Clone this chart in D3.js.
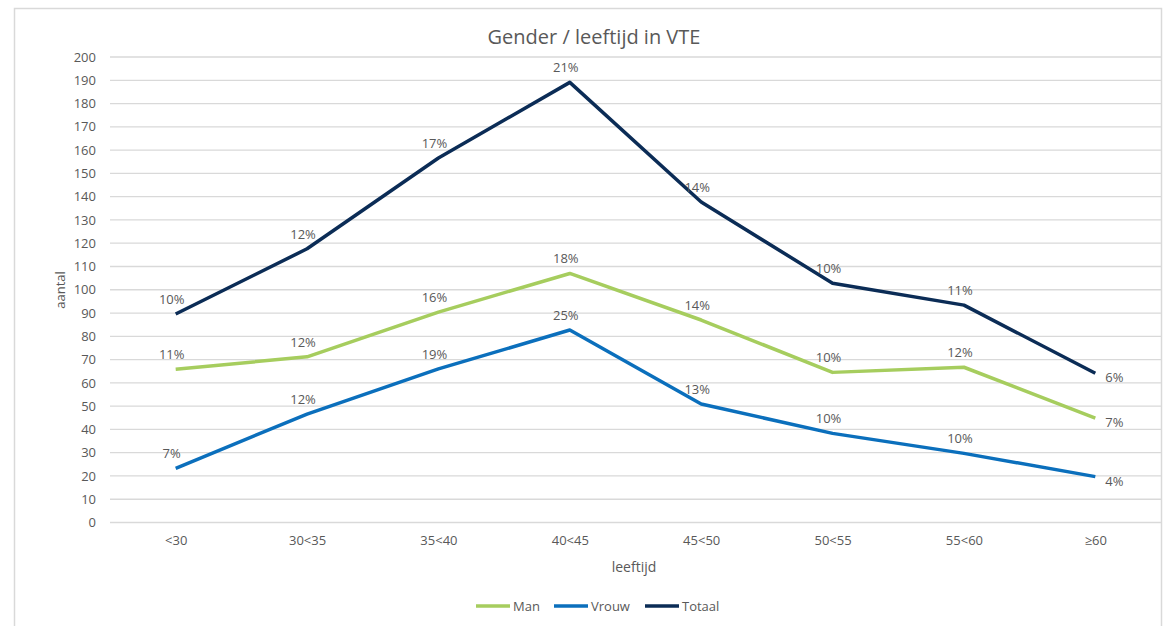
<!DOCTYPE html>
<html>
<head>
<meta charset="utf-8">
<script src="https://cdn.jsdelivr.net/npm/d3@7"></script>
<style>
	body{margin:0;background:#fff;}
	svg{display:block;font-family:"Open Sans","Liberation Sans",sans-serif;}
	text{fill:#595959;}
</style>
</head>
<body>
<svg></svg>
<script>
// data
const categories=["<30","30<35","35<40","40<45","45<50","50<55","55<60","≥60"]
const man=[65.8,71.2,90.4,107,87,64.5,66.7,44.8]
const vrouw=[23.3,46.6,66,82.7,50.9,38.3,29.7,19.7]
const totaal=[89.6,117.6,156.6,189.1,137.7,102.8,93.4,64.1]
const manPct=["11%","12%","16%","18%","14%","10%","12%","7%"]
const vrouwPct=["7%","12%","19%","25%","13%","10%","10%","4%"]
const totaalPct=["10%","12%","17%","21%","14%","10%","11%","6%"]
const yTicks=d3.range(0,201,10)

const series=[
	{name:"Man",values:man,labels:manPct,color:"#a6cd5e"},
	{name:"Vrouw",values:vrouw,labels:vrouwPct,color:"#0b6fbc"},
	{name:"Totaal",values:totaal,labels:totaalPct,color:"#0b2c56"}
]

const svg=d3.select("svg")
	.attr("width",1163)
	.attr("height",626)

//outer chart border
svg.append("rect")
	.attr("x",14.5).attr("y",8.5)
	.attr("width",1147).attr("height",700)
	.attr("fill","none")
	.attr("stroke","#d9d9d9")
	.attr("stroke-width",1.5)

const x=d3.scalePoint()
	.domain(categories)
	.range([110,1161])
	.padding(0.5)

const y=d3.scaleLinear()
	.domain([0,200])
	.range([522.5,57])

//gridlines
svg.append("g")
	.selectAll("line")
	.data(yTicks)
	.enter()
	.append("line")
	.attr("x1",110).attr("x2",1161)
	.attr("y1",d=>y(d)).attr("y2",d=>y(d))
	.attr("stroke","#d9d9d9")
	.attr("stroke-width",1.3)

//y axis labels
const yAxis=svg.append("g")
	.attr("transform","translate(102,0)")
	.call(d3.axisLeft(y).tickValues(yTicks).tickSize(0).tickPadding(6))
yAxis.select(".domain").remove()
yAxis.selectAll("text")
	.attr("fill","#595959")
	.style("font-size","13px")
	.style("font-family","'Open Sans','Liberation Sans',sans-serif")

//x axis labels
const xAxis=svg.append("g")
	.attr("transform","translate(0,532)")
	.call(d3.axisBottom(x).tickSize(0).tickPadding(4))
xAxis.select(".domain").remove()
xAxis.selectAll("text")
	.attr("fill","#595959")
	.style("font-size","13px")
	.style("font-family","'Open Sans','Liberation Sans',sans-serif")

//title and axis titles
svg.append("text")
	.attr("x",594).attr("y",44)
	.attr("text-anchor","middle")
	.style("font-size","20px")
	.text("Gender / leeftijd in VTE")

svg.append("text")
	.attr("transform","translate(65,290) rotate(-90)")
	.attr("text-anchor","middle")
	.style("font-size","13px")
	.text("aantal")

svg.append("text")
	.attr("x",634).attr("y",572)
	.attr("text-anchor","middle")
	.style("font-size","14px")
	.text("leeftijd")

//lines
const lineGenerator=d3.line()
	.x((d,i)=>x(categories[i]))
	.y(d=>y(d))

const last=categories.length-1

series.forEach(s=>{
	svg.append("path")
		.datum(s.values)
		.attr("d",lineGenerator)
		.attr("fill","none")
		.attr("stroke",s.color)
		.attr("stroke-width",3.5)
		.attr("stroke-linejoin","round")

	//percentage labels, above the point, last one on the right
	svg.append("g")
		.selectAll("text")
		.data(s.values)
		.enter()
		.append("text")
		.attr("x",(d,i)=>x(categories[i])+(i==last?10:-4))
		.attr("y",(d,i)=>y(d)+(i==last?9:-10))
		.attr("text-anchor",(d,i)=>i==last?"start":"middle")
		.style("font-size","13px")
		.text((d,i)=>s.labels[i])
})

//legend
const legendX=[476,554,645]
const legend=svg.append("g")
	.selectAll("g")
	.data(series)
	.enter()
	.append("g")
	.attr("transform",(d,i)=>"translate("+legendX[i]+",606)")
legend.append("line")
	.attr("x1",0).attr("x2",34)
	.attr("stroke",d=>d.color)
	.attr("stroke-width",3.5)
legend.append("text")
	.attr("x",37).attr("y",5)
	.style("font-size","13px")
	.text(d=>d.name)
</script>
</body>
</html>
